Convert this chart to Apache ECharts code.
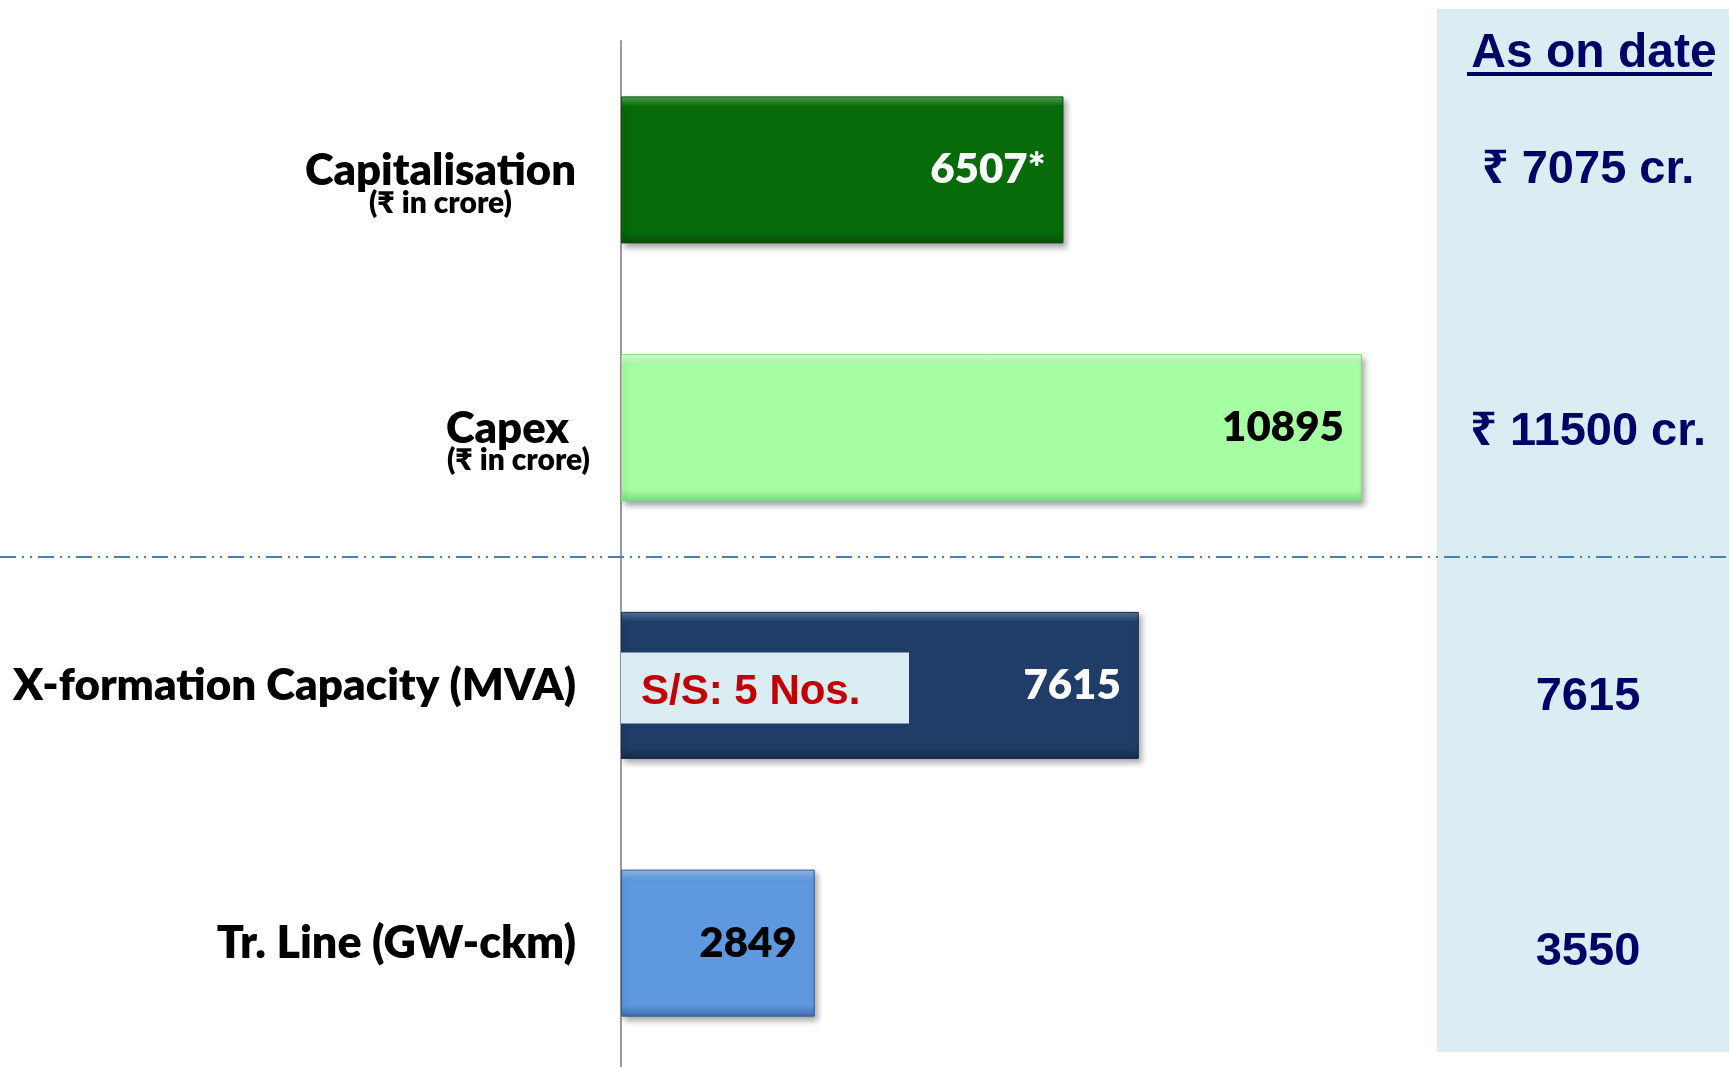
<!DOCTYPE html>
<html>
<head>
<meta charset="utf-8">
<script src="https://cdn.jsdelivr.net/npm/echarts@6/dist/echarts.min.js"></script>
<style>
  html, body { margin: 0; padding: 0; background: #fff; }
  #chart { width: 1729px; height: 1067px; }
</style>
</head>
<body>
<div id="chart"></div>
<script>
// data
const categories = ['Capitalisation', 'Capex', 'X-formation Capacity (MVA)', 'Tr. Line (GW-ckm)']
const achieved = [6507, 10895, 7615, 2849]
const valueNotes = ['*', '', '', '']
const unitNotes = ['(₹ in crore)', '(₹ in crore)', '', '']
const targetLabels = ['₹ 7075 cr.', '₹ 11500 cr.', '7615', '3550']
const targetTitle = 'As on date'
const ssNote = 'S/S: 5 Nos.'

const LATO = 'Lato, "Noto Sans", "DejaVu Sans", sans-serif'
const ARIAL = '"Liberation Sans", Arial, "Noto Sans", sans-serif'
const NAVY = '#000066'
const HEAVY = 800

// bevel-ish colours for each bar: [top, base, bottom, border, label]
const barColors = [
  ['#4FA852', '#076B0A', '#0A4F0C', '#0A4F0C', '#ffffff'],
  ['#E2FFE2', '#A6FFA3', '#86D686', '#7FD97F', '#000000'],
  ['#56749C', '#1F3D66', '#152B4A', '#152B4A', '#ffffff'],
  ['#8FBDF2', '#5E99E0', '#426FA8', '#2F5A8C', '#000000']
]

const bevel = (c) => new echarts.graphic.LinearGradient(0, 0, 0, 1, [
  { offset: 0, color: c[0] },
  { offset: 0.07, color: c[1] },
  { offset: 0.92, color: c[1] },
  { offset: 1, color: c[2] }
])

// small vertical nudges of the right-hand column (slide text boxes were placed by hand)
const targetNudge = [0, 8, 24, 18]

const chart = echarts.init(document.getElementById('chart'))

const option = {
  animation: false,
  backgroundColor: '#ffffff',
  title: {
    text: targetTitle,
    left: 1589,
    top: 25,
    textAlign: 'center',
    textStyle: { fontFamily: ARIAL, fontWeight: 'bold', fontSize: 48, color: NAVY }
  },
  grid: { left: 621, top: 41, width: 816, height: 1031, containLabel: false, outerBoundsMode: 'none' },
  xAxis: { type: 'value', min: 0, max: 12000, show: false },
  yAxis: [
    {
      type: 'category',
      data: categories,
      inverse: true,
      axisLine: { show: true, lineStyle: { color: '#9a9a9a', width: 2 } },
      axisTick: { show: false },
      splitLine: { show: false },
      axisLabel: {
        margin: 30,
        align: 'right',
        verticalAlign: 'middle',
        formatter: (value, idx) => {
          if (idx === 0) return '{gap| }\n{m|' + value + '}\n{s|' + unitNotes[idx] + '}'
          if (idx === 1) return '{gap| }\n{mc|' + value + '}\n{sc|' + unitNotes[idx] + '}'
          if (idx === 3) return '{b|' + value + '}'
          return '{a|' + value + '}'
        },
        rich: {
          gap: { fontSize: 2, lineHeight: 30 },
          m: { fontFamily: LATO, fontWeight: HEAVY, fontSize: 43.6, lineHeight: 36, color: '#000', align: 'center', padding: [0, 15, 0, 0] },
          s: { fontFamily: LATO, fontWeight: HEAVY, fontSize: 30, lineHeight: 28, color: '#000', align: 'center', padding: [0, 15, 0, 0] },
          mc: { fontFamily: LATO, fontWeight: HEAVY, fontSize: 43.6, lineHeight: 36, color: '#000', align: 'center', padding: [0, 22, 0, 0] },
          sc: { fontFamily: LATO, fontWeight: HEAVY, fontSize: 30, lineHeight: 28, color: '#000', align: 'center' },
          a: { fontFamily: LATO, fontWeight: HEAVY, fontSize: 43.9, color: '#000', padding: [0, 15, 0, 0] },
          b: { fontFamily: LATO, fontWeight: HEAVY, fontSize: 44.8, color: '#000', padding: [0, 15, 0, 0] }
        }
      }
    },
    {
      type: 'category',
      data: targetLabels,
      inverse: true,
      position: 'right',
      axisLine: { show: false },
      axisTick: { show: false },
      splitLine: { show: false },
      axisLabel: {
        margin: 151,
        align: 'center',
        verticalAlign: 'middle',
        formatter: (value, idx) => '{t' + idx + '|' + value + '}',
        rich: {}
      }
    }
  ],
  series: [
    {
      type: 'bar',
      yAxisIndex: 0,
      barWidth: 147,
      data: achieved.map((v, i) => ({
        value: v,
        itemStyle: {
          color: bevel(barColors[i]),
          borderColor: barColors[i][3],
          borderWidth: 1,
          shadowColor: 'rgba(0,0,0,0.35)',
          shadowBlur: 6,
          shadowOffsetX: 3,
          shadowOffsetY: 4
        },
        label: { color: barColors[i][4] }
      })),
      label: {
        show: true,
        position: 'insideRight',
        distance: 18,
        fontFamily: LATO,
        fontWeight: HEAVY,
        fontSize: 42,
        formatter: (p) => p.value + valueNotes[p.dataIndex]
      }
    }
  ]
}

// per-label padding to push the right column text down a little
targetNudge.forEach((n, i) => {
  option.yAxis[1].axisLabel.rich['t' + i] = {
    fontFamily: ARIAL, fontWeight: 'bold', fontSize: 47, color: NAVY, padding: [n, 0, 0, 0]
  }
})

chart.setOption(option)

// decorations placed from the axes
const pCapex = chart.convertToPixel({ gridIndex: 0 }, [0, categories[1]])
const pXf = chart.convertToPixel({ gridIndex: 0 }, [0, categories[2]])
const sepY = Math.round((pCapex[1] + pXf[1]) / 2)

chart.setOption({
  graphic: [
    {
      type: 'rect',
      z: -100,
      shape: { x: 1437, y: 9, width: 292, height: 1043 },
      style: { fill: '#DAEDF3' }
    },
    {
      type: 'line',
      z: 100,
      shape: { x1: 1467, y1: 74, x2: 1712, y2: 74 },
      style: { stroke: NAVY, lineWidth: 4 }
    },
    {
      type: 'line',
      z: 100,
      shape: { x1: 0, y1: sepY, x2: 1729, y2: sepY },
      style: { stroke: '#4A7EBB', lineWidth: 2, lineDash: [16, 6, 2, 6, 2, 6] }
    },
    {
      type: 'group',
      z: 100,
      x: pXf[0],
      y: pXf[1],
      children: [
        {
          type: 'rect',
          z: 100,
          shape: { x: 0, y: -33, width: 288, height: 71 },
          style: { fill: '#DAEDF3' }
        },
        {
          type: 'text',
          z: 101,
          x: 20,
          y: 7,
          style: {
            text: ssNote,
            fontFamily: ARIAL,
            fontWeight: 'bold',
            fontSize: 42,
            fill: '#C00000',
            verticalAlign: 'middle'
          }
        }
      ]
    }
  ]
})

window.addEventListener('resize', () => chart.resize())
</script>
</body>
</html>
